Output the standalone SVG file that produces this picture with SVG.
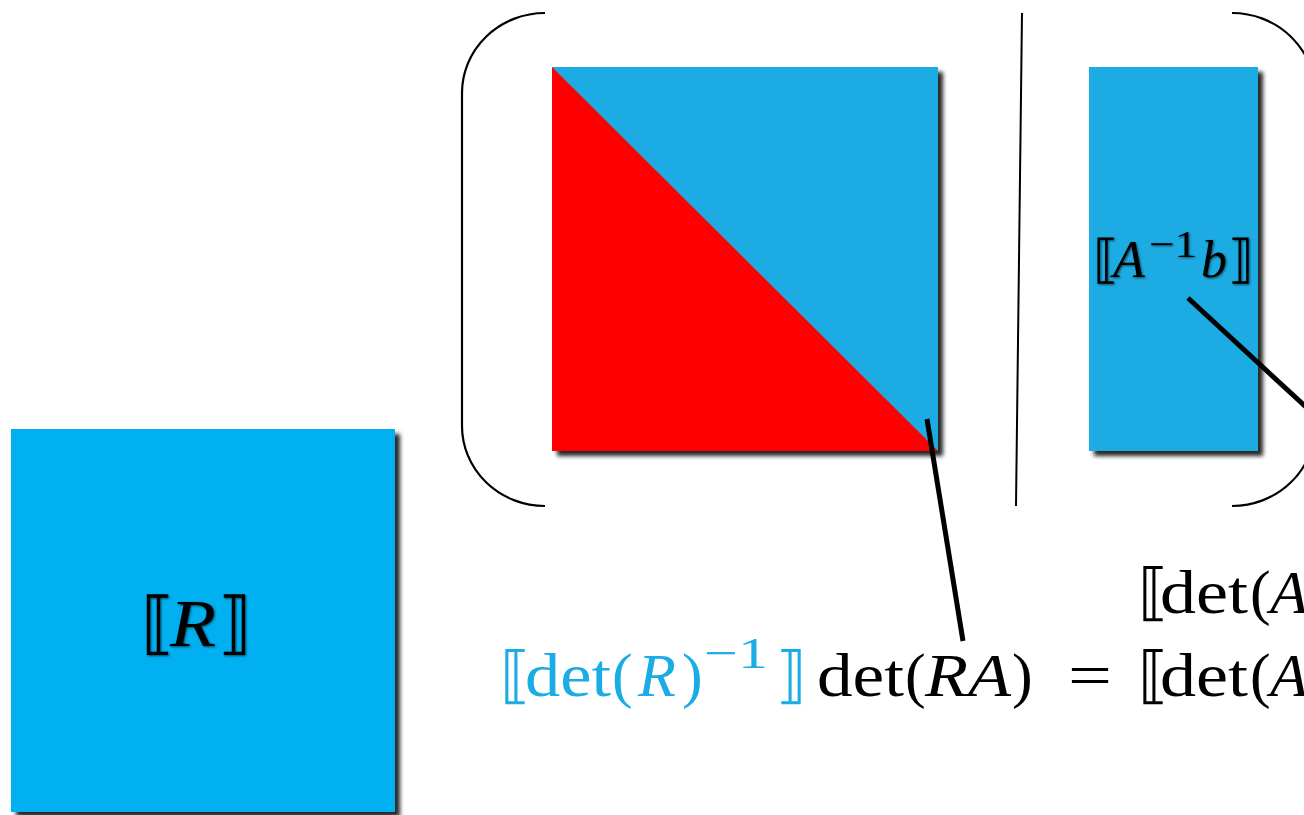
<svg xmlns="http://www.w3.org/2000/svg" width="1304" height="815" viewBox="0 0 1304 815">
<defs>
<filter id="shadow" x="-5%" y="-5%" width="115%" height="115%">
<feDropShadow dx="5" dy="5" stdDeviation="2" flood-color="#000" flood-opacity="0.85"/>
</filter>
<filter id="tshadow" x="-10%" y="-10%" width="130%" height="130%">
<feDropShadow dx="1" dy="1" stdDeviation="1.2" flood-color="#000" flood-opacity="0.6"/>
</filter>
</defs>
<style>
.m{font-family:"Liberation Serif","DejaVu Serif",serif;fill:#000}
.i{font-style:italic}
.blue{fill:#1AADE4}
.paren{fill:none;stroke:#000;stroke-width:2.2}
.lead{stroke:#000;stroke-width:5;fill:none}
</style>
<rect width="1304" height="815" fill="#fff"/>

<g id="node-R">
<rect x="11" y="429" width="384" height="383" fill="#00B0F0" filter="url(#shadow)"/>
<text class="m" font-size="68" filter="url(#tshadow)"><tspan x="141" y="646">⟦</tspan><tspan x="170" y="646" class="i" textLength="46" lengthAdjust="spacingAndGlyphs">R</tspan><tspan x="218" y="646">⟧</tspan></text>
</g>

<g id="node-RA">
<g filter="url(#shadow)">
<rect x="552" y="67" width="386" height="384" fill="#1FABE2"/>
<polygon points="552,67 938,451 552,451" fill="#FF0000"/>
</g>
</g>

<g id="node-Ab">
<rect x="1089" y="67" width="169" height="384" fill="#1FABE2" filter="url(#shadow)"/>
<text class="m" font-size="52" filter="url(#tshadow)"><tspan x="1093" y="277">⟦</tspan><tspan x="1113" y="277" class="i">A</tspan><tspan x="1149" y="257" font-size="38" textLength="48" lengthAdjust="spacingAndGlyphs">−1</tspan><tspan x="1201" y="277" class="i">b</tspan><tspan x="1228" y="277">⟧</tspan></text>
</g>

<g id="brackets">
<path class="paren" d="M545,13 A83,80 0 0 0 462,93 L462,426 A83,80 0 0 0 545,506"/>
<path class="paren" d="M1232,13 A83,80 0 0 1 1315,93 L1315,426 A83,80 0 0 1 1232,506"/>
<line x1="1022" y1="13" x2="1016" y2="506" stroke="#000" stroke-width="2"/>
</g>

<g id="connectors">
<line class="lead" x1="927" y1="419" x2="963" y2="641"/>
<line class="lead" x1="1188" y1="298" x2="1320" y2="420"/>
</g>

<g id="label-upper">
<text class="m" font-size="62"><tspan x="1138" y="613">⟦</tspan><tspan x="1160" y="613" textLength="88" lengthAdjust="spacingAndGlyphs">det</tspan><tspan x="1250" y="613">(</tspan><tspan x="1270" y="613" class="i">A</tspan></text>
</g>

<g id="label-lower">
<text class="m blue" font-size="62"><tspan x="500" y="696">⟦</tspan><tspan x="525" y="696" textLength="86" lengthAdjust="spacingAndGlyphs">det</tspan><tspan x="612" y="696">(</tspan><tspan x="638" y="696" class="i">R</tspan><tspan x="682" y="696">)</tspan><tspan x="704" y="668" font-size="44" textLength="64" lengthAdjust="spacingAndGlyphs">−1</tspan><tspan x="776" y="696">⟧</tspan></text>
<text class="m" font-size="62"><tspan x="817" y="696" textLength="87" lengthAdjust="spacingAndGlyphs">det</tspan><tspan x="905" y="696">(</tspan><tspan x="925" y="696" class="i" textLength="86" lengthAdjust="spacingAndGlyphs">RA</tspan><tspan x="1012" y="696">)</tspan><tspan x="1068" y="696" textLength="44" lengthAdjust="spacingAndGlyphs">=</tspan><tspan x="1138" y="696">⟦</tspan><tspan x="1160" y="696" textLength="88" lengthAdjust="spacingAndGlyphs">det</tspan><tspan x="1250" y="696">(</tspan><tspan x="1270" y="696" class="i">A</tspan></text>
</g>
</svg>
